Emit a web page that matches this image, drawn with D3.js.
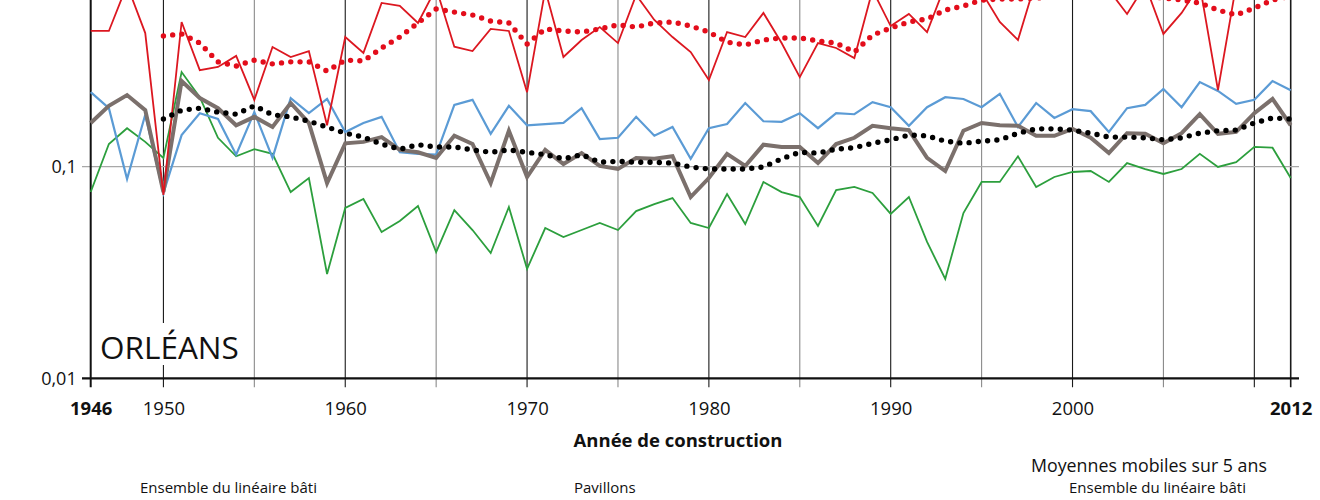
<!DOCTYPE html>
<html>
<head>
<meta charset="utf-8">
<script src="https://cdn.jsdelivr.net/npm/d3@7"></script>
<style>
  body { margin: 0; background: #fff; }
  svg { display: block; font-family: "Open Sans", "Noto Sans", sans-serif; }
</style>
</head>
<body>
<svg id="chart" width="1320" height="500"></svg>
<script>
// years 1946 -> 2012
const years = d3.range(1946, 2013);
const mmYears = d3.range(1950, 2013);

// red thin line
const redValues = [
  0.438, 0.438, 0.722, 0.428, 0.0735, 0.483, 0.286, 0.296, 0.334, 0.207,
  0.368, 0.330, 0.352, 0.157, 0.410, 0.345, 0.594, 0.575, 0.478, 0.699,
  0.369, 0.352, 0.448, 0.438, 0.225, 0.684, 0.330, 0.397, 0.457, 0.384,
  0.648, 0.494, 0.410, 0.348, 0.257, 0.433, 0.410, 0.533, 0.384, 0.265,
  0.384, 0.364, 0.326, 0.684, 0.462, 0.527, 0.433, 0.722, 0.805, 0.669,
  0.483, 0.397, 0.763, 0.850, 0.805, 0.763, 0.684, 0.527, 0.722, 0.424,
  0.533, 0.722, 0.230, 0.722, 0.805, 0.763, 0.850
];
// blue thin line
const blueValues = [
  0.225, 0.189, 0.0875, 0.176, 0.0751, 0.141, 0.179, 0.168, 0.114, 0.181,
  0.110, 0.211, 0.179, 0.209, 0.146, 0.161, 0.172, 0.117, 0.115, 0.114,
  0.196, 0.207, 0.143, 0.194, 0.157, 0.159, 0.161, 0.189, 0.135, 0.137,
  0.172, 0.140, 0.154, 0.109, 0.152, 0.159, 0.200, 0.164, 0.163, 0.179,
  0.152, 0.179, 0.177, 0.202, 0.191, 0.156, 0.191, 0.213, 0.209, 0.191,
  0.221, 0.154, 0.200, 0.170, 0.187, 0.183, 0.146, 0.189, 0.196, 0.233,
  0.191, 0.251, 0.228, 0.198, 0.207, 0.254, 0.230
];
// grey thick line
const greyValues = [
  0.161, 0.194, 0.218, 0.185, 0.0759, 0.254, 0.211, 0.189, 0.157, 0.172,
  0.154, 0.200, 0.161, 0.0837, 0.129, 0.131, 0.138, 0.120, 0.117, 0.110,
  0.140, 0.128, 0.0837, 0.148, 0.0894, 0.120, 0.103, 0.116, 0.1008, 0.0975,
  0.110, 0.109, 0.112, 0.0719, 0.0884, 0.115, 0.1008, 0.127, 0.124, 0.124,
  0.104, 0.128, 0.137, 0.156, 0.152, 0.149, 0.110, 0.0954, 0.148, 0.161,
  0.157, 0.156, 0.140, 0.140, 0.151, 0.137, 0.116, 0.144, 0.143, 0.129,
  0.144, 0.177, 0.143, 0.146, 0.179, 0.209, 0.157
];
// green thin line
const greenValues = [
  0.0759, 0.128, 0.152, 0.131, 0.110, 0.280, 0.213, 0.137, 0.112, 0.121,
  0.115, 0.0759, 0.0884, 0.0311, 0.0638, 0.0704, 0.0491, 0.0554, 0.0652, 0.0395,
  0.0624, 0.0502, 0.0391, 0.0645, 0.0329, 0.0513, 0.0465, 0.0502, 0.0542, 0.0502,
  0.0617, 0.0666, 0.0711, 0.0542, 0.0513, 0.0743, 0.0536, 0.0847, 0.0759, 0.0719,
  0.0525, 0.0776, 0.0802, 0.0751, 0.0598, 0.0719, 0.0441, 0.0295, 0.0604, 0.0847,
  0.0847, 0.112, 0.0802, 0.0894, 0.0944, 0.0954, 0.0847, 0.104, 0.0975, 0.0924,
  0.0975, 0.115, 0.0997, 0.105, 0.124, 0.123, 0.0884
];
// moving averages (5 years), 1950 -> 2012
const redMM = [
  0.415, 0.424, 0.384, 0.313, 0.299, 0.319, 0.306, 0.313, 0.313, 0.283,
  0.319, 0.316, 0.364, 0.410, 0.478, 0.556, 0.538, 0.521, 0.488, 0.478,
  0.380, 0.448, 0.438, 0.433, 0.448, 0.468, 0.457, 0.478, 0.483, 0.462,
  0.433, 0.388, 0.376, 0.397, 0.406, 0.406, 0.393, 0.384, 0.348, 0.419,
  0.452, 0.483, 0.499, 0.550, 0.575, 0.613, 0.620, 0.620, 0.627, 0.634,
  0.655, 0.669, 0.669, 0.655, 0.641, 0.627, 0.613, 0.594, 0.550, 0.521,
  0.562, 0.613, 0.641
];
const blackMM = [
  0.168, 0.185, 0.189, 0.181, 0.177, 0.194, 0.176, 0.172, 0.164, 0.154,
  0.144, 0.138, 0.128, 0.121, 0.127, 0.124, 0.124, 0.120, 0.117, 0.120,
  0.117, 0.114, 0.109, 0.114, 0.105, 0.106, 0.105, 0.105, 0.104, 0.0997,
  0.0975, 0.0975, 0.0975, 0.0997, 0.109, 0.117, 0.116, 0.121, 0.123, 0.129,
  0.134, 0.141, 0.140, 0.132, 0.129, 0.132, 0.134, 0.144, 0.151, 0.151,
  0.149, 0.144, 0.138, 0.138, 0.137, 0.134, 0.137, 0.144, 0.148, 0.149,
  0.161, 0.170, 0.168
];

const gridYears = d3.range(1950, 2011, 5).concat([2012]);
const labelYears = [1946, 1950, 1960, 1970, 1980, 1990, 2000, 2012];
const yTicks = [0.01, 0.1];

const svg = d3.select("#chart");

const x = d3.scaleLinear().domain([1946, 2012]).range([90.7, 1290.7]);
const y = d3.scaleLog().domain([0.01, 1]).range([378.3, -44.9]);
const yBottom = y(0.01);

// grid lines
const grid = svg.append("g");
grid.selectAll("line.v")
  .data(gridYears)
  .join("line")
  .attr("x1", d => x(d)).attr("x2", d => x(d))
  .attr("y1", 0).attr("y2", yBottom + 9)
  .attr("stroke", d => (d % 10 === 0 || d === 2012) ? "#1a1a1a" : "#8a8a8a")
  .attr("stroke-width", d => d === 2012 ? 1.6 : 1.1);

grid.append("line")
  .attr("x1", 82).attr("x2", 1299)
  .attr("y1", y(0.1)).attr("y2", y(0.1))
  .attr("stroke", "#a8a8a8").attr("stroke-width", 1.3);

// y axis line
svg.append("line")
  .attr("x1", x(1946)).attr("x2", x(1946))
  .attr("y1", 0).attr("y2", yBottom + 9)
  .attr("stroke", "#111").attr("stroke-width", 2);

// x axis line
svg.append("line")
  .attr("x1", 82).attr("x2", 1299)
  .attr("y1", yBottom).attr("y2", yBottom)
  .attr("stroke", "#111").attr("stroke-width", 2.2);

// title box
svg.append("rect")
  .attr("x", 96).attr("y", 323).attr("width", 150).attr("height", 42)
  .attr("fill", "#fff");
svg.append("text")
  .attr("x", 100).attr("y", 359)
  .attr("font-size", "31.5px")
  .attr("fill", "#111")
  .text("ORLÉANS");

// series
const line = d3.line()
  .x(d => x(d[0]))
  .y(d => y(d[1]));

const series = [
  { yrs: years, vals: greenValues, color: "#2c9f3d", width: 1.8 },
  { yrs: years, vals: blueValues, color: "#5b9bd5", width: 2.2 },
  { yrs: years, vals: greyValues, color: "#7b706c", width: 4 },
  { yrs: years, vals: redValues, color: "#dc1720", width: 1.8 }
];

const plot = svg.append("g");
series.forEach(s => {
  plot.append("path")
    .datum(s.yrs.map((yr, i) => [yr, s.vals[i]]))
    .attr("fill", "none")
    .attr("stroke", s.color)
    .attr("stroke-width", s.width)
    .attr("stroke-linejoin", "miter")
    .attr("d", line);
});

// moving averages, dotted
[{ vals: redMM, color: "#e30d1b" }, { vals: blackMM, color: "#000" }].forEach(s => {
  plot.append("path")
    .datum(mmYears.map((yr, i) => [yr, s.vals[i]]))
    .attr("fill", "none")
    .attr("stroke", s.color)
    .attr("stroke-width", 5.4)
    .attr("stroke-linecap", "round")
    .attr("stroke-dasharray", "0 9.3")
    .attr("d", line);
});

// x axis labels
const xAxis = d3.axisBottom(x)
  .tickValues(labelYears)
  .tickFormat(d3.format("d"))
  .tickSize(0)
  .tickPadding(0);
const gx = svg.append("g")
  .attr("transform", `translate(0, ${yBottom + 24})`)
  .call(xAxis);
gx.select(".domain").remove();
gx.selectAll("text")
  .attr("font-family", "'Open Sans', sans-serif")
  .attr("font-size", "18.5px")
  .attr("fill", "#111")
  .attr("font-weight", d => (d === 1946 || d === 2012) ? "bold" : "normal");

// y axis labels
const yAxis = d3.axisLeft(y)
  .tickValues(yTicks)
  .tickFormat(d => d === 0.1 ? "0,1" : "0,01")
  .tickSize(0)
  .tickPadding(14);
const gy = svg.append("g")
  .attr("transform", `translate(${x(1946)}, 0)`)
  .call(yAxis);
gy.select(".domain").remove();
gy.selectAll("text")
  .attr("font-family", "'Open Sans', sans-serif")
  .attr("font-size", "18px")
  .attr("fill", "#111");

// axis title
svg.append("text")
  .attr("x", 678).attr("y", 447)
  .attr("text-anchor", "middle")
  .attr("font-size", "18.5px")
  .attr("font-weight", "bold")
  .attr("fill", "#111")
  .text("Année de construction");

svg.append("text")
  .attr("x", 1031).attr("y", 472)
  .attr("font-size", "17.8px")
  .attr("fill", "#111")
  .text("Moyennes mobiles sur 5 ans");

// legend row at the bottom edge
const legendLabels = [
  { x: 140, t: "Ensemble du linéaire bâti" },
  { x: 574, t: "Pavillons" },
  { x: 1069, t: "Ensemble du linéaire bâti" }
];
svg.selectAll("text.leg")
  .data(legendLabels)
  .join("text")
  .attr("class", "leg")
  .attr("x", d => d.x).attr("y", 493)
  .attr("font-size", "15px")
  .attr("fill", "#111")
  .text(d => d.t);
</script>
</body>
</html>
